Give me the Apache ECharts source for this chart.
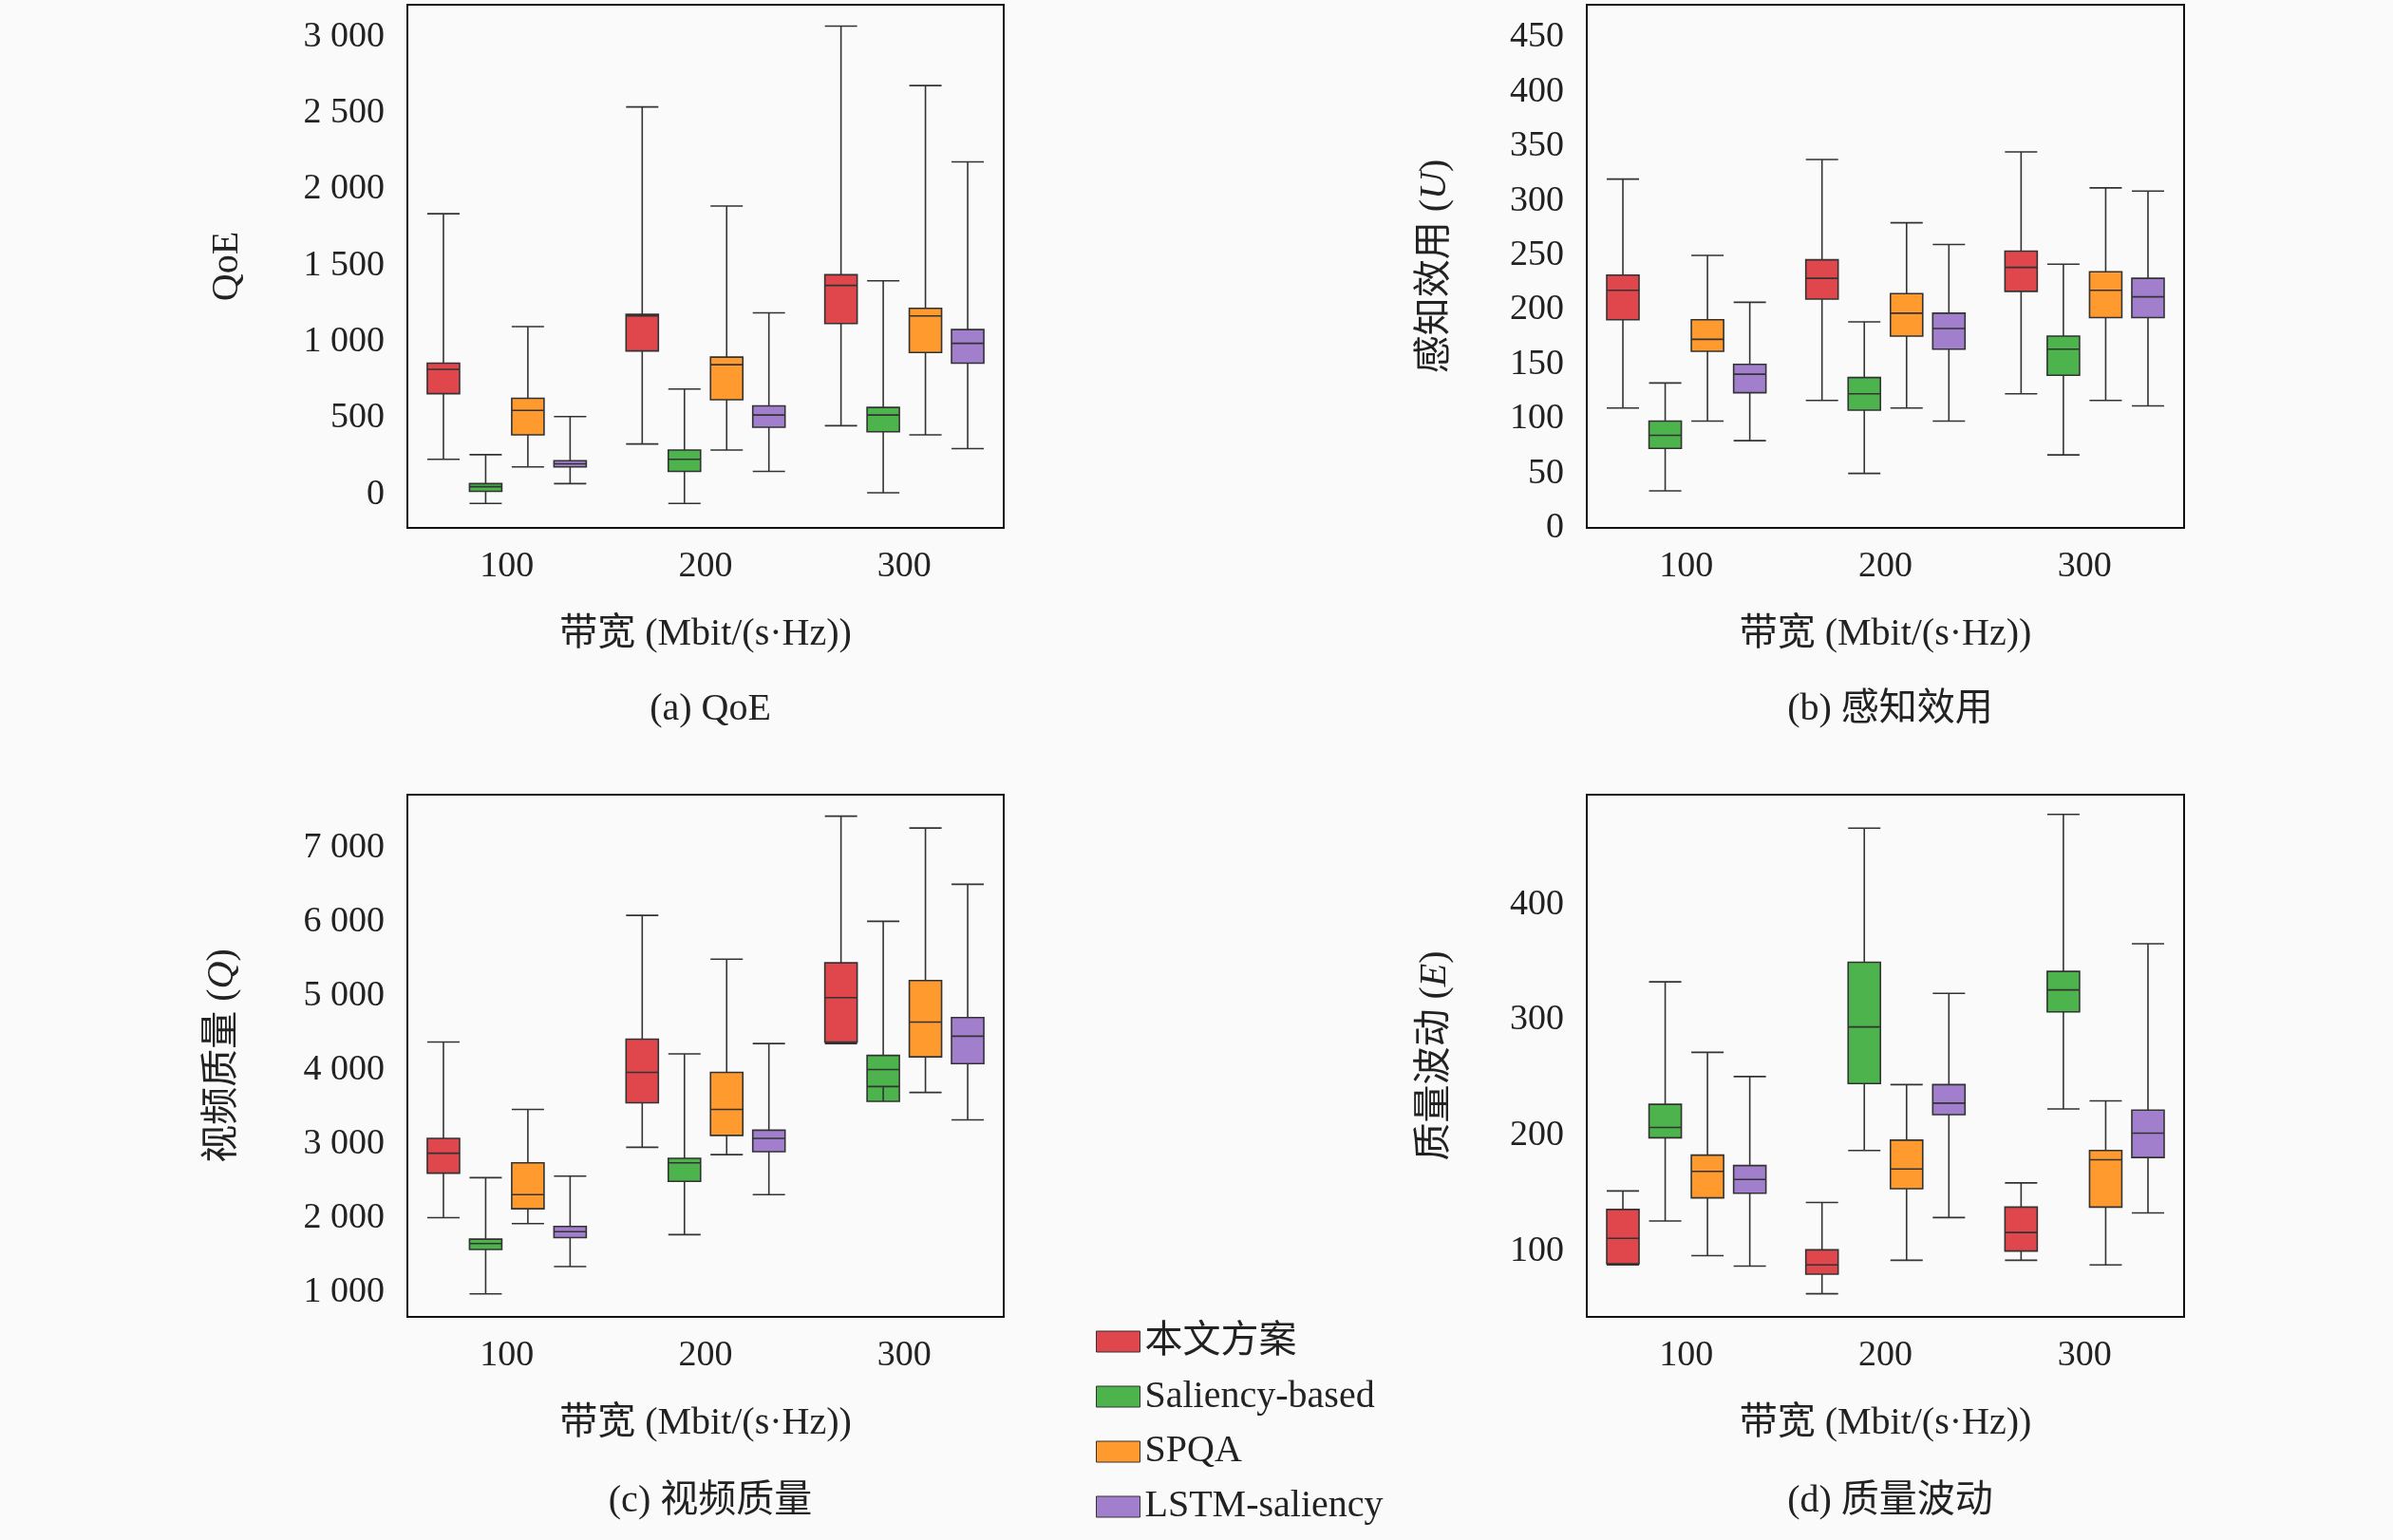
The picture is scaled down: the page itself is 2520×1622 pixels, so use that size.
<!DOCTYPE html>
<html><head><meta charset="utf-8">
<script src="https://cdn.jsdelivr.net/npm/echarts@6/dist/echarts.min.js"></script>
<style>html,body{margin:0;background:#fafafa}#c{width:2520px;height:1622px}</style>
</head><body><div id="c"></div>
<script>
const categories = ['100','200','300'];
const seriesNames = ['本文方案','Saliency-based','SPQA','LSTM-saliency'];
const colors = ['#e0474c','#4db34d','#ff9a2e','#a27fcd'];
// [min, Q1, median, Q3, max]
const qoe = [
 [[230,660,820,860,1840],[330,940,1170,1180,2540],[450,1120,1370,1440,3070]],
 [[-60,20,50,70,260],[-60,150,230,290,690],[10,410,520,570,1400]],
 [[180,390,550,630,1100],[290,620,850,900,1890],[390,930,1170,1220,2680]],
 [[70,180,200,220,510],[150,440,520,580,1190],[300,860,990,1080,2180]]
];
const utility = [
 [[110,191,218,232,320],[117,210,229,246,338],[123,217,239,254,345]],
 [[34,73,85,98,133],[50,108,123,138,189],[67,140,164,176,242]],
 [[98,162,173,191,250],[110,176,197,215,280],[117,193,218,235,312]],
 [[80,124,141,150,207],[98,164,183,197,260],[112,193,212,229,309]]
];
const quality = [
 [[2010,2610,2880,3080,4380],[2960,3560,3970,4420,6090],[4360,4380,4980,5450,7430]],
 [[980,1580,1660,1720,2550],[1780,2500,2750,2810,4220],[3780,3580,4010,4200,6010]],
 [[1930,2130,2320,2750,3470],[2860,3120,3470,3970,5500],[3700,4180,4650,5210,7270]],
 [[1350,1740,1820,1890,2570],[2320,2900,3080,3190,4360],[3330,4090,4460,4710,6510]]
];
const fluctuation = [
 [[88,89,111,136,152],[63,80,88,101,142],[92,100,116,138,159]],
 [[126,198,207,227,333],[187,245,294,350,466],[223,307,326,342,478]],
 [[96,146,169,183,272],[92,154,171,196,244],[88,138,179,187,230]],
 [[87,150,162,174,251],[129,218,228,244,323],[133,181,202,222,366]]
];
const panels = [
 {data:qoe, min:-220, max:3210, split:7, name:'QoE', title:'(a) QoE', showMin:false, gap:170},
 {data:utility, min:0, max:480, split:9, name:'感知效用 ({i|U})', title:'(b) 感知效用', showMin:true, gap:140},
 {data:quality, min:670, max:7720, split:7, name:'视频质量 ({i|Q})', title:'(c) 视频质量', showMin:false, gap:175},
 {data:fluctuation, min:43, max:495, split:4, name:'质量波动 ({i|E})', title:'(d) 质量波动', showMin:false, gap:140}
];
const FF = '"Liberation Serif","Noto Sans CJK SC",serif';
const grids = [
 {left:429, top:5, width:628, height:551},
 {left:1671, top:5, width:629, height:551},
 {left:429, top:837, width:628, height:550},
 {left:1671, top:837, width:629, height:550}
];
const fmt = v => { const s = String(Math.round(v)); return s.length>3 ? s.slice(0,-3)+' '+s.slice(-3) : s; };
const option = {
 backgroundColor:'#fafafa',
 textStyle:{fontFamily:FF},
 grid: grids.map(g=>Object.assign({show:true,borderColor:'#111',borderWidth:2,backgroundColor:'transparent'},g)),
 title: panels.map((p,i)=>({text:p.title, left:grids[i].left+grids[i].width/2, top: i<2?722:1556, textAlign:'center',
   textStyle:{fontFamily:FF,fontWeight:'normal',fontSize:40,color:'#222'}})),
 legend:{orient:'vertical', left:1149, top:1388, height:230, itemGap:18, itemWidth:46, itemHeight:22, icon:'rect',
   data:seriesNames.map((n,k)=>({name:n, itemStyle:{color:colors[k], borderColor:'#333', borderWidth:1}})),
   textStyle:{fontFamily:FF,fontSize:40,color:'#222'}},
 xAxis: panels.map((p,i)=>({type:'category', gridIndex:i, data:categories,
   name:'带宽 (Mbit/(s·Hz))', nameLocation:'middle', nameGap:92,
   nameTextStyle:{fontFamily:FF,fontSize:40,color:'#222'},
   axisLine:{onZero:false,lineStyle:{color:'#111',width:2}}, axisTick:{alignWithLabel:true,inside:true,length:8,lineStyle:{color:'#111'}},
   axisLabel:{fontFamily:FF,fontSize:38,color:'#222',margin:22}, splitLine:{show:false}})),
 yAxis: panels.map((p,i)=>({type:'value', gridIndex:i, min:p.min, max:p.max, splitNumber:p.split,
   name:p.name, nameLocation:'middle', nameGap:p.gap,
   nameTextStyle:{fontFamily:FF,fontSize:40,color:'#222',rich:{i:{fontFamily:FF,fontStyle:'italic',fontSize:40,color:'#222'}}},
   axisLine:{lineStyle:{color:'#111',width:2}}, axisTick:{inside:true,length:8,lineStyle:{color:'#111'}},
   axisLabel:{fontFamily:FF,fontSize:38,color:'#222',margin:24,formatter:fmt,showMinLabel:p.showMin,showMaxLabel:false},
   splitLine:{show:false}})),
 series: []
};
panels.forEach((p,i)=>{
 seriesNames.forEach((n,k)=>{
  option.series.push({type:'boxplot', name:n, xAxisIndex:i, yAxisIndex:i, data:p.data[k],
   boxWidth:[34,34], itemStyle:{color:colors[k], borderColor:'#333', borderWidth:1.6}, emphasis:{disabled:true}});
 });
});
echarts.init(document.getElementById('c')).setOption(option);
</script></body></html>
